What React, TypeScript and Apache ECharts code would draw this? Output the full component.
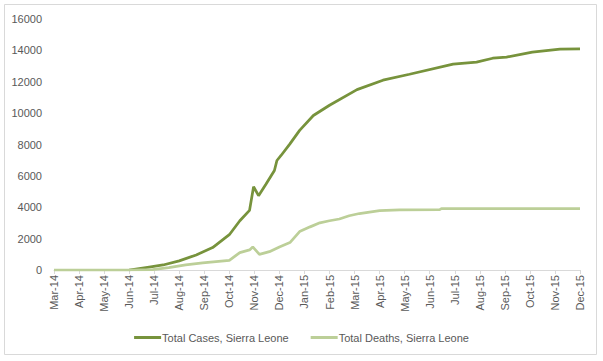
import React, { useEffect, useRef } from "react";
import * as echarts from "echarts";

const monthLabels = [
  "Mar-14", "Apr-14", "May-14", "Jun-14", "Jul-14", "Aug-14", "Sep-14", "Oct-14",
  "Nov-14", "Dec-14", "Jan-15", "Feb-15", "Mar-15", "Apr-15", "May-15", "Jun-15",
  "Jul-15", "Aug-15", "Sep-15", "Oct-15", "Nov-15", "Dec-15",
];

const yTicks = [0, 2000, 4000, 6000, 8000, 10000, 12000, 14000, 16000];

const caseDates = [
  "2014-06-01", "2014-06-25", "2014-07-12", "2014-08-01", "2014-08-22", "2014-09-11",
  "2014-10-01", "2014-10-14", "2014-10-26", "2014-10-31", "2014-11-06", "2014-11-15",
  "2014-11-25", "2014-11-28", "2014-12-03", "2014-12-14", "2014-12-26", "2015-01-12",
  "2015-02-01", "2015-03-04", "2015-04-05", "2015-05-07", "2015-06-29", "2015-07-28",
  "2015-08-17", "2015-09-03", "2015-10-04", "2015-11-07", "2015-12-01",
];
const caseValues = [
  0, 190, 320, 580, 960, 1430,
  2250, 3140, 3800, 5310, 4740, 5480,
  6340, 6980, 7300, 8040, 8900, 9850,
  10500, 11500, 12100, 12480, 13120, 13250,
  13500, 13570, 13890, 14080, 14100,
];

const deathDates = [
  "2014-03-01", "2014-06-01", "2014-06-29", "2014-07-19", "2014-08-09", "2014-08-30",
  "2014-10-01", "2014-10-14", "2014-10-26", "2014-10-30", "2014-11-07", "2014-11-19",
  "2014-12-01", "2014-12-14", "2014-12-26", "2015-01-08", "2015-01-20", "2015-02-01",
  "2015-02-12", "2015-02-23", "2015-03-07", "2015-04-01", "2015-04-25", "2015-06-13",
  "2015-06-15", "2015-12-01",
];
const deathValues = [
  0, 0, 20, 150, 320, 450,
  620, 1110, 1280, 1470, 1000, 1170,
  1470, 1750, 2450, 2750, 3010, 3140,
  3250, 3460, 3600, 3780, 3840, 3850,
  3910, 3910,
];

const seriesNames = ["Total Cases, Sierra Leone", "Total Deaths, Sierra Leone"];

function toMonthIndex(d: string): number {
  const [y, m, day] = d.split("-").map(Number);
  const dim = new Date(y, m, 0).getDate();
  return (y - 2014) * 12 + (m - 3) + (day - 1) / dim;
}

export default function App() {
  const ref = useRef<HTMLDivElement>(null);
  useEffect(() => {
    if (!ref.current) return;
    const chart = echarts.init(ref.current, undefined, { renderer: "svg" });
    const font = "Liberation Sans";
    chart.setOption({
      animation: false,
      backgroundColor: "#ffffff",
      textStyle: { fontFamily: font },
      grid: { left: 54, right: 23, top: 19, bottom: 91 },
      legend: {
        left: "center",
        top: 327,
        itemWidth: 27,
        itemHeight: 3,
        itemGap: 22,
        icon: "rect",
        textStyle: { fontFamily: font, fontSize: 11, color: "#595959", padding: [0, 0, 0, -4] },
        data: seriesNames,
      },
      xAxis: {
        type: "value",
        min: 0,
        max: monthLabels.length - 1,
        interval: 1,
        splitLine: { show: false },
        axisLine: { show: true, lineStyle: { color: "#d9d9d9", width: 1 } },
        axisTick: { show: true, length: 4, lineStyle: { color: "#d9d9d9" } },
        axisLabel: {
          rotate: 90,
          margin: 5,
          fontFamily: font,
          fontSize: 11,
          color: "#595959",
          formatter: (v: number) => monthLabels[Math.round(v)] ?? "",
        },
      },
      yAxis: {
        type: "value",
        min: yTicks[0],
        max: yTicks[yTicks.length - 1],
        interval: yTicks[1] - yTicks[0],
        splitLine: { show: false },
        axisLine: { show: false },
        axisTick: { show: false },
        axisLabel: {
          fontFamily: font,
          fontSize: 11,
          color: "#595959",
          margin: 12,
          formatter: (v: number) => String(v),
        },
      },
      series: [
        {
          name: seriesNames[0],
          type: "line",
          showSymbol: false,
          symbol: "none",
          lineStyle: { color: "#77933c", width: 2.75 },
          itemStyle: { color: "#77933c" },
          data: caseDates.map((d, i) => [toMonthIndex(d), caseValues[i]]),
        },
        {
          name: seriesNames[1],
          type: "line",
          showSymbol: false,
          symbol: "none",
          lineStyle: { color: "#bccf98", width: 2.75 },
          itemStyle: { color: "#bccf98" },
          data: deathDates.map((d, i) => [toMonthIndex(d), deathValues[i]]),
        },
      ],
      graphic: [
        {
          type: "rect",
          shape: { x: 4.5, y: 4.5, width: 592, height: 350 },
          style: { fill: "none", stroke: "#d9d9d9", lineWidth: 1 },
          silent: true,
        },
      ],
    });
    return () => chart.dispose();
  }, []);
  return (
    <div
      ref={ref}
      style={{ position: "fixed", left: 0, top: 0, width: 603, height: 361 }}
    />
  );
}
